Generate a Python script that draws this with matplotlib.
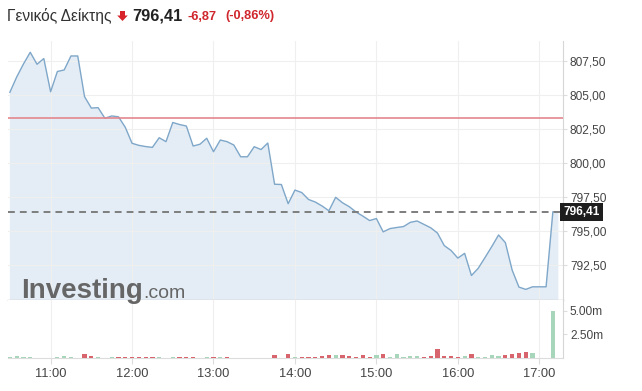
import matplotlib
matplotlib.use("Agg")
import matplotlib.pyplot as plt
import matplotlib.transforms as mtransforms
from matplotlib.patches import Polygon
import pandas as pd

plt.rcParams['font.family'] = ['Liberation Sans', 'DejaVu Sans']

# ---------------- data ----------------
title_name = "Γενικός Δείκτης"
last_price = 796.41
change = -6.87
change_pct = -0.86
prev_close = 803.28

times = list(pd.date_range("2024-01-01 10:30", "2024-01-01 17:10", freq="5min")) + [pd.Timestamp("2024-01-01 17:14")]
price = [805.20, 806.32, 807.28, 808.14, 807.26, 807.68, 805.24, 806.73, 806.84, 807.87,
         807.87, 804.88, 804.04, 804.07, 803.29, 803.46, 803.40, 802.63, 801.45, 801.30,
         801.21, 801.15, 801.86, 801.57, 802.98, 802.83, 802.72, 801.25, 801.38, 801.82,
         800.83, 801.69, 801.57, 801.32, 800.46, 800.46, 801.20, 800.99, 801.47, 798.44,
         798.42, 797.01, 798.01, 797.83, 797.32, 797.13, 796.84, 796.49, 797.48, 797.08,
         796.79, 796.40, 796.10, 795.77, 795.92, 794.94, 795.18, 795.26, 795.33, 795.64,
         795.74, 795.49, 795.24, 794.85, 793.93, 793.57, 793.01, 793.36, 791.73, 792.26,
         793.05, 793.86, 794.71, 794.15, 792.13, 790.88, 790.71, 790.90, 790.90, 790.90,
         796.42, 796.41]
volume_m = [0.11, 0.20, 0.11, 0.06, 0.05, 0.05, 0.05, 0.11, 0.20, 0.11,
            0.05, 0.45, 0.22, 0.06, 0.05, 0.08, 0.06, 0.08, 0.06, 0.08,
            0.06, 0.08, 0.06, 0.05, 0.08, 0.06, 0.08, 0.06, 0.05, 0.11,
            0.06, 0.08, 0.06, 0.05, 0.05, 0.04, 0.05, 0.04, 0.05, 0.34,
            0.05, 0.45, 0.11, 0.06, 0.06, 0.08, 0.22, 0.34, 0.34, 0.34,
            0.22, 0.11, 0.34, 0.11, 0.34, 0.45, 0.11, 0.45, 0.11, 0.22,
            0.22, 0.11, 0.22, 1.00, 0.22, 0.22, 0.11, 0.22, 0.45, 0.11,
            0.11, 0.34, 0.22, 0.34, 0.45, 0.56, 0.67, 0.56, 0.00, 0.00,
            5.03]
price_ticks = [792.5, 795.0, 797.5, 800.0, 802.5, 805.0, 807.5]
vol_ticks = [2.5, 5.0]
hour_ticks = [11, 12, 13, 14, 15, 16, 17]
hour_labels = ["11:00", "12:00", "13:00", "14:00", "15:00", "16:00", "17:00"]

# ---------------- figure ----------------
W, H = 642, 391
fig = plt.figure(figsize=(W / 100, H / 100), dpi=100)

def fx(x):
    return x / W

def fy(y):
    return 1 - y / H

x_hours = [t.hour + t.minute / 60 for t in times]
xlim = (10.477, 17.291)

left, right = 8, 563
ax = fig.add_axes([fx(left), fy(300), fx(right - left), fy(41) - fy(300)])
axv = fig.add_axes([fx(left), fy(358), fx(right - left), fy(300) - fy(358)])

line_col = '#7fa7c9'
fill_col = '#e4edf5'
grid_col = '#efefef'

# main price chart
ax.fill_between(x_hours, price, 700, color=fill_col, lw=0, zorder=1)
ax.plot(x_hours, price, color=line_col, lw=1.0, zorder=3)
ax.axhline(prev_close, color='#e3868d', lw=1.2, zorder=4)
ax.axhline(last_price, color='#7d7d7d', lw=1.4, dashes=(3.5, 2.6), zorder=4)
ax.set_xlim(*xlim)
ax.set_ylim(789.93, 808.97)
ax.set_yticks(price_ticks)
ax.set_yticklabels([f"{v:.2f}".replace('.', ',') for v in price_ticks])
ax.yaxis.tick_right()
ax.tick_params(axis='y', length=3, width=0.8, color='#dddddd', pad=2,
               labelsize=8.6, labelcolor='#444444')
ax.set_xticks(hour_ticks)
ax.tick_params(axis='x', length=0, labelbottom=False)
ax.grid(True, color=grid_col, lw=0.8, zorder=0)
for s in ['top', 'left']:
    ax.spines[s].set_visible(False)
ax.spines['right'].set_color('#d6d6d6')
ax.spines['bottom'].set_color('#c4c4c4')
ax.spines['bottom'].set_linewidth(1.0)
ax.set_facecolor('white')

# last price label
trans = mtransforms.blended_transform_factory(ax.transAxes, ax.transData)
ax.text(1.0, last_price, f"{last_price:.2f}".replace('.', ','), transform=trans,
        ha='left', va='center', color='white', fontsize=8.6, fontweight='bold',
        bbox=dict(boxstyle='square,pad=0.28', fc='#1e1e1e', ec='none'), zorder=6,
        clip_on=False)

# logo
logo = fig.text(fx(21), fy(298), "Investing", fontsize=20, fontweight='heavy',
                color='#666666', va='baseline', ha='left', zorder=10)
fig.canvas.draw()
bb = logo.get_window_extent(renderer=fig.canvas.get_renderer())
fig.text(bb.x1 / W + fx(0.5), fy(298), ".com", fontsize=14, color='#666666',
         va='baseline', ha='left', zorder=10)

# volume chart
vcols = []
for i, v in enumerate(volume_m):
    if i == 0 or price[i] >= price[i - 1]:
        vcols.append('#a8d6ba')
    else:
        vcols.append('#d8646d')
axv.bar(x_hours[:len(volume_m)], volume_m, width=5 / 60 * 0.62, color=vcols,
        lw=0, zorder=3)
axv.set_xlim(*xlim)
axv.set_ylim(0, 6.17)
axv.set_yticks(vol_ticks)
axv.set_yticklabels([f"{v:.2f}m" for v in vol_ticks])
axv.yaxis.tick_right()
axv.tick_params(axis='y', length=3, width=0.8, color='#dddddd', pad=2,
                labelsize=8.6, labelcolor='#444444')
axv.set_xticks(hour_ticks)
axv.set_xticklabels(hour_labels)
axv.tick_params(axis='x', length=4, width=0.8, color='#dddddd', pad=3,
                labelsize=9.3, labelcolor='#444444')
axv.grid(True, axis='x', color=grid_col, lw=0.8, zorder=0)
for s in ['top', 'left']:
    axv.spines[s].set_visible(False)
axv.spines['right'].set_color('#d6d6d6')
axv.spines['bottom'].set_color('#dcdcdc')

# header
fig.text(fx(7), fy(16), title_name, fontsize=11.2, color='#333333',
         ha='left', va='center')
arrow = Polygon([[fx(120), fy(11)], [fx(125), fy(11)], [fx(125), fy(15.5)],
                 [fx(127.8), fy(15.5)], [fx(122.5), fy(21)], [fx(117.2), fy(15.5)],
                 [fx(120), fy(15.5)]], closed=True, transform=fig.transFigure,
                facecolor='#d8232a', edgecolor='none')
fig.patches.append(arrow)
fig.text(fx(132), fy(16), f"{last_price:.2f}".replace('.', ','), fontsize=11.8,
         fontweight='bold', color='#222222', ha='left', va='center')
fig.text(fx(187.5), fy(16.5), f"{change:.2f}".replace('.', ','), fontsize=9.2,
         fontweight='bold', color='#d0262d', ha='left', va='center')
fig.text(fx(225), fy(16.5), "(" + f"{change_pct:.2f}".replace('.', ',') + "%)",
         fontsize=9.2, fontweight='bold', color='#d0262d', ha='left', va='center')

fig.savefig("out.png", dpi=100, facecolor='white')
